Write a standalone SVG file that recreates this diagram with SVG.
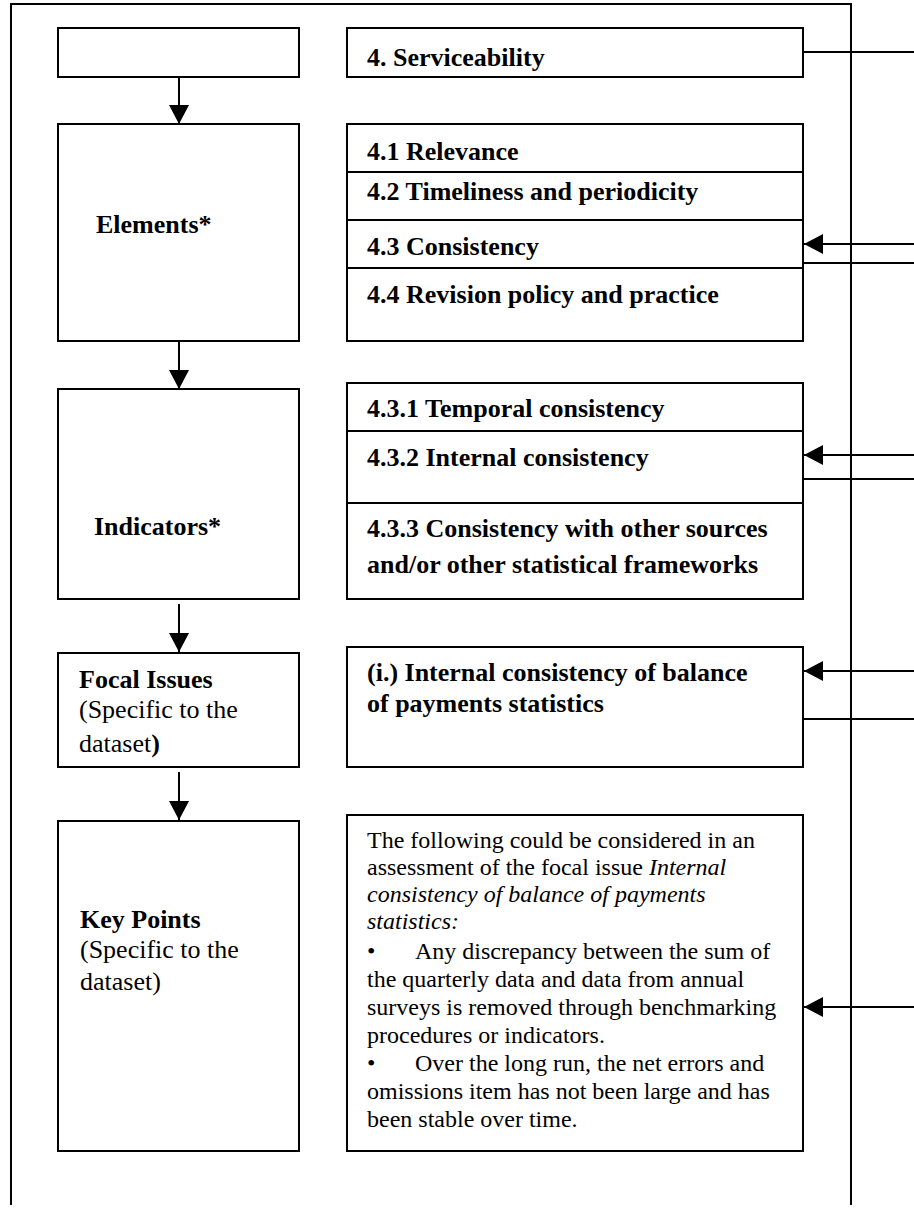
<svg xmlns="http://www.w3.org/2000/svg" width="914" height="1210" viewBox="0 0 914 1210">
<defs>
<marker id="ah" markerWidth="20" markerHeight="20" viewBox="0 0 20 20" refX="19" refY="10" orient="auto" markerUnits="userSpaceOnUse">
<path d="M0,0 L19,10 L0,20 Z" fill="#000"/>
</marker>
<style>
.box{fill:#fff;stroke:#000;stroke-width:2}
.ln{stroke:#000;stroke-width:2;fill:none}
.b{font-family:"Liberation Serif","Times New Roman",serif;font-weight:bold;font-size:26px;fill:#000}
.r{font-family:"Liberation Serif","Times New Roman",serif;font-size:26px;fill:#000}
.k{font-family:"Liberation Serif","Times New Roman",serif;font-size:24px;fill:#000}
.i{font-style:italic}
</style>
</defs>
<rect width="914" height="1210" fill="#fff"/>
<g id="frame">
<path class="ln" d="M11,1205 V4 H851 V1205"/>
</g>
<g id="connectors">
<line class="ln" x1="179" y1="77" x2="179" y2="124" marker-end="url(#ah)"/>
<line class="ln" x1="179" y1="341" x2="179" y2="389" marker-end="url(#ah)"/>
<line class="ln" x1="179" y1="604" x2="179" y2="652" marker-end="url(#ah)"/>
<line class="ln" x1="179" y1="772" x2="179" y2="820" marker-end="url(#ah)"/>
<line class="ln" x1="803" y1="52" x2="914" y2="52"/>
<line class="ln" x1="914" y1="244" x2="804" y2="244" marker-end="url(#ah)"/>
<line class="ln" x1="803" y1="263" x2="914" y2="263"/>
<line class="ln" x1="914" y1="455" x2="804" y2="455" marker-end="url(#ah)"/>
<line class="ln" x1="803" y1="479" x2="914" y2="479"/>
<line class="ln" x1="914" y1="671" x2="804" y2="671" marker-end="url(#ah)"/>
<line class="ln" x1="803" y1="719" x2="914" y2="719"/>
<line class="ln" x1="914" y1="1007" x2="804" y2="1007" marker-end="url(#ah)"/>
</g>
<g id="level-top">
<rect class="box" x="58" y="28" width="241" height="49"/>
</g>
<g id="serviceability">
<rect class="box" x="347" y="28" width="456" height="49"/>
<text class="b" x="367" y="66">4. Serviceability</text>
</g>
<g id="elements">
<rect class="box" x="58" y="124" width="241" height="217"/>
<text class="b" x="96" y="233">Elements*</text>
</g>
<g id="elements-list">
<rect class="box" x="347" y="124" width="456" height="217"/>
<line class="ln" x1="347" y1="172" x2="803" y2="172"/>
<line class="ln" x1="347" y1="220" x2="803" y2="220"/>
<line class="ln" x1="347" y1="268" x2="803" y2="268"/>
<text class="b" x="367" y="160">4.1 Relevance</text>
<text class="b" x="367" y="200">4.2 Timeliness and periodicity</text>
<text class="b" x="367" y="255">4.3 Consistency</text>
<text class="b" x="367" y="303">4.4 Revision policy and practice</text>
</g>
<g id="indicators">
<rect class="box" x="58" y="389" width="241" height="210"/>
<text class="b" x="94" y="535">Indicators*</text>
</g>
<g id="indicators-list">
<rect class="box" x="347" y="383" width="456" height="216"/>
<line class="ln" x1="347" y1="431" x2="803" y2="431"/>
<line class="ln" x1="347" y1="503" x2="803" y2="503"/>
<text class="b" x="367" y="417">4.3.1 Temporal consistency</text>
<text class="b" x="367" y="466">4.3.2 Internal consistency</text>
<text class="b" x="367" y="537">4.3.3 Consistency with other sources</text>
<text class="b" x="367" y="573">and/or other statistical frameworks</text>
</g>
<g id="focal-issues">
<rect class="box" x="58" y="653" width="241" height="114"/>
<text class="b" x="79" y="688">Focal Issues</text>
<text class="r" x="79" y="718">(Specific to the</text>
<text class="r" x="79" y="752">dataset<tspan font-weight="bold">)</tspan></text>
</g>
<g id="focal-issue-text">
<rect class="box" x="347" y="647" width="456" height="120"/>
<text class="b" x="367" y="681">(i.) Internal consistency of balance</text>
<text class="b" x="367" y="712">of payments statistics</text>
</g>
<g id="key-points">
<rect class="box" x="58" y="821" width="241" height="330"/>
<text class="b" x="80" y="928">Key Points</text>
<text class="r" x="80" y="958">(Specific to the</text>
<text class="r" x="80" y="990">dataset)</text>
</g>
<g id="key-points-text">
<rect class="box" x="347" y="815" width="456" height="336"/>
<text class="k" x="367" y="848">The following could be considered in an</text>
<text class="k" x="367" y="875">assessment of the focal issue <tspan class="i">Internal</tspan></text>
<text class="k i" x="367" y="902">consistency of balance of payments</text>
<text class="k i" x="367" y="929">statistics:</text>
<text class="k" x="367" y="959">•</text>
<text class="k" x="415" y="959">Any discrepancy between the sum of</text>
<text class="k" x="367" y="987">the quarterly data and data from annual</text>
<text class="k" x="367" y="1015">surveys is removed through benchmarking</text>
<text class="k" x="367" y="1043">procedures or indicators.</text>
<text class="k" x="367" y="1071">•</text>
<text class="k" x="415" y="1071">Over the long run, the net errors and</text>
<text class="k" x="367" y="1099">omissions item has not been large and has</text>
<text class="k" x="367" y="1127">been stable over time.</text>
</g>
</svg>
